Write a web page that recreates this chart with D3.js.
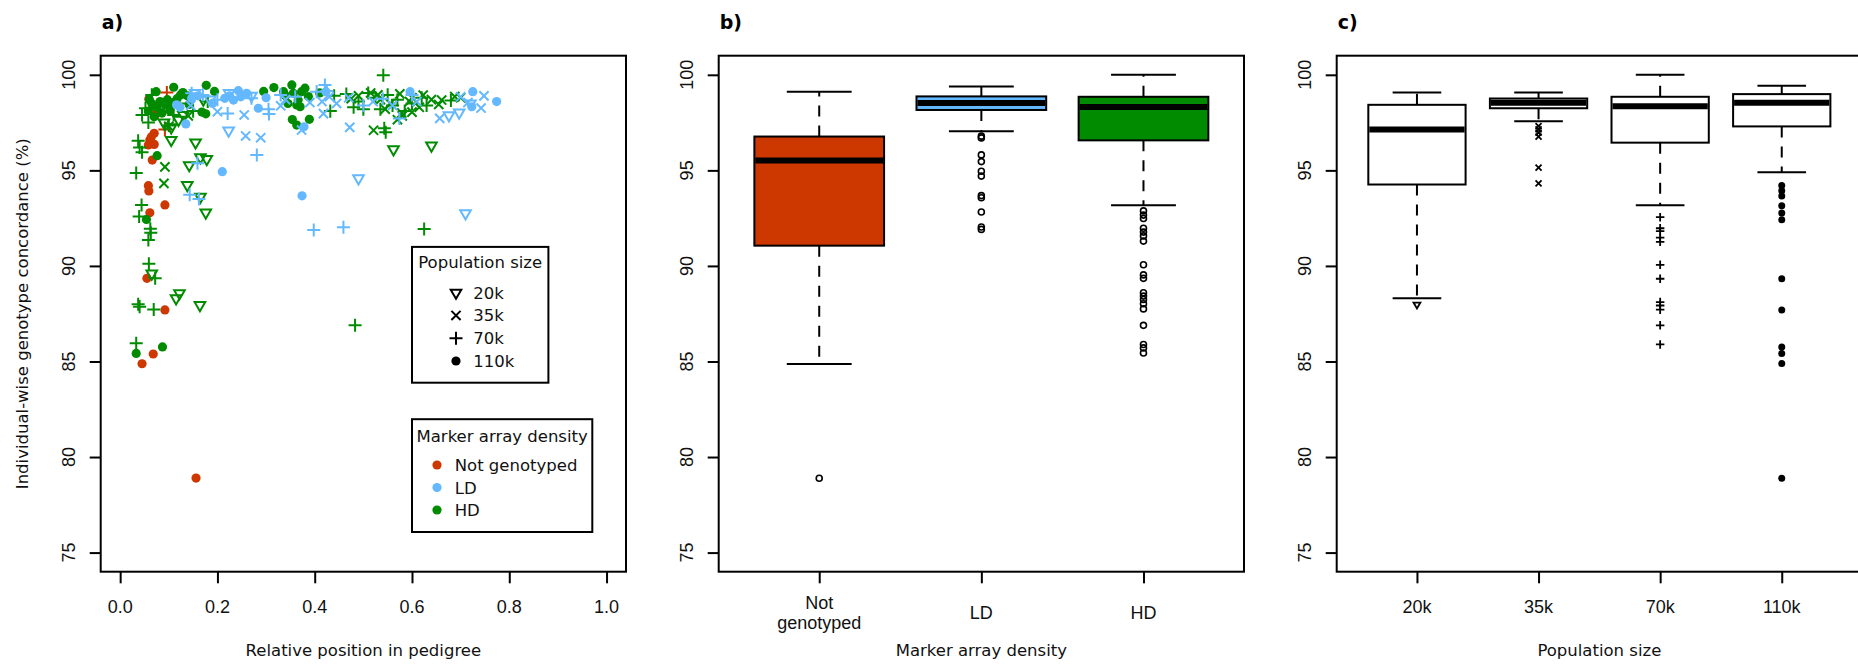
<!DOCTYPE html>
<html><head><meta charset="utf-8">
<script src="https://cdn.jsdelivr.net/npm/d3@7"></script>
<style>body{margin:0;background:#fff}</style>
</head><body>
<svg id="chart" width="1858" height="665"></svg>
<script>
// ---------------- DATA ----------------
const popSizes = ["20k", "35k", "70k", "110k"];
const densities = ["Not genotyped", "LD", "HD"];
const densityTickLabels = [["Not", "genotyped"], ["LD"], ["HD"]];
const densityColors = ["#CD3700", "#63B8FF", "#008B00"];
const xTicksA = [0, 0.2, 0.4, 0.6, 0.8, 1.0];
const yTicks = [75, 80, 85, 90, 95, 100];

// scatter points: [relative position, concordance, population size]
const notGenotypedPoints = [
  [0.059,98.73,"110k"],[0.074,97.99,"110k"],[0.070,96.94,"110k"],[0.061,96.59,"110k"],[0.070,96.36,"110k"],
  [0.058,96.33,"110k"],[0.064,96.75,"110k"],[0.066,95.54,"110k"],[0.058,94.20,"110k"],[0.059,93.92,"110k"],
  [0.092,93.19,"110k"],[0.061,92.78,"110k"],[0.055,89.35,"110k"],[0.092,87.70,"110k"],[0.068,85.39,"110k"],
  [0.045,84.88,"110k"],[0.156,78.90,"110k"],[0.096,99.08,"70k"],[0.092,97.14,"70k"],[0.078,98.05,"70k"]
];
const ldPoints = [
  [0.116,98.43,"110k"],[0.123,98.30,"110k"],[0.135,97.43,"110k"],[0.147,98.77,"110k"],[0.190,98.51,"110k"],
  [0.215,98.77,"110k"],[0.210,94.93,"110k"],[0.233,98.68,"110k"],[0.243,99.17,"110k"],[0.260,99.03,"110k"],
  [0.248,98.85,"110k"],[0.284,98.25,"110k"],[0.378,97.28,"110k"],[0.374,93.67,"110k"],[0.423,99.12,"110k"],
  [0.596,99.12,"110k"],[0.725,99.12,"110k"],[0.723,98.33,"110k"],[0.774,98.60,"110k"],[0.160,98.90,"110k"],
  [0.225,98.90,"110k"],[0.300,98.80,"110k"],
  [0.200,98.07,"35k"],[0.255,97.90,"35k"],[0.258,96.80,"35k"],[0.289,96.71,"35k"],[0.330,98.38,"35k"],
  [0.373,97.11,"35k"],[0.418,97.97,"35k"],[0.472,97.25,"35k"],[0.657,97.72,"35k"],[0.742,98.26,"35k"],
  [0.748,98.90,"35k"],[0.415,98.60,"35k"],[0.430,98.85,"35k"],[0.445,98.50,"35k"],[0.470,98.80,"35k"],
  [0.520,98.60,"35k"],[0.560,98.40,"35k"],[0.610,98.60,"35k"],[0.700,98.85,"35k"],[0.715,98.55,"35k"],
  [0.145,98.40,"35k"],[0.390,98.55,"35k"],[0.340,98.70,"35k"],
  [0.223,97.08,"20k"],[0.224,99.04,"20k"],[0.154,99.05,"20k"],[0.490,94.58,"20k"],[0.710,92.75,"20k"],
  [0.676,97.88,"20k"],[0.697,98.02,"20k"],[0.720,98.50,"20k"],[0.270,98.90,"20k"],[0.185,98.70,"20k"],
  [0.147,99.03,"70k"],[0.143,93.72,"70k"],[0.162,93.50,"70k"],[0.159,95.37,"70k"],[0.221,97.97,"70k"],
  [0.270,98.77,"70k"],[0.281,95.80,"70k"],[0.306,97.95,"70k"],[0.305,98.20,"70k"],[0.398,91.88,"70k"],
  [0.459,92.02,"70k"],[0.404,99.12,"70k"],[0.421,99.47,"70k"],[0.425,99.15,"70k"],[0.574,97.72,"70k"],
  [0.330,98.95,"70k"],[0.360,98.85,"70k"],[0.500,98.40,"70k"],[0.600,98.95,"70k"],[0.540,98.75,"70k"],
  [0.170,98.95,"70k"],[0.200,98.70,"70k"]
];
const hdPoints = [
  [0.074,99.12,"110k"],[0.110,99.35,"110k"],[0.129,99.07,"110k"],[0.177,99.45,"110k"],[0.194,99.13,"110k"],
  [0.176,97.96,"110k"],[0.295,99.13,"110k"],[0.316,99.33,"110k"],[0.336,99.12,"110k"],[0.353,99.47,"110k"],
  [0.356,99.03,"110k"],[0.366,98.68,"110k"],[0.370,98.33,"110k"],[0.387,98.86,"110k"],[0.389,97.67,"110k"],
  [0.354,97.66,"110k"],[0.363,97.37,"110k"],[0.410,99.05,"110k"],[0.373,99.12,"110k"],[0.363,98.42,"110k"],
  [0.076,95.77,"110k"],[0.054,92.43,"110k"],[0.033,85.42,"110k"],[0.087,85.76,"110k"],[0.058,98.10,"110k"],
  [0.065,98.50,"110k"],[0.075,98.30,"110k"],[0.082,98.60,"110k"],[0.086,98.00,"110k"],[0.092,98.45,"110k"],
  [0.097,98.70,"110k"],[0.102,98.15,"110k"],[0.107,98.55,"110k"],[0.117,98.75,"110k"],[0.124,98.95,"110k"],
  [0.070,97.80,"110k"],[0.138,98.90,"110k"],[0.142,98.45,"110k"],[0.168,98.05,"110k"],[0.060,98.70,"110k"],
  [0.340,98.90,"110k"],[0.380,99.30,"110k"],[0.345,98.50,"110k"],
  [0.105,97.25,"20k"],[0.120,97.64,"20k"],[0.105,96.59,"20k"],[0.155,96.46,"20k"],[0.142,95.27,"20k"],
  [0.165,95.68,"20k"],[0.178,95.59,"20k"],[0.138,94.23,"20k"],[0.165,93.61,"20k"],[0.176,92.79,"20k"],
  [0.065,89.60,"20k"],[0.115,88.30,"20k"],[0.122,88.57,"20k"],[0.164,87.95,"20k"],[0.562,96.10,"20k"],
  [0.640,96.30,"20k"],[0.171,98.70,"20k"],[0.130,97.90,"20k"],[0.090,97.50,"20k"],
  [0.092,95.18,"35k"],[0.090,94.32,"35k"],[0.521,97.10,"35k"],[0.580,97.85,"35k"],[0.688,98.86,"35k"],
  [0.661,98.68,"35k"],[0.623,98.94,"35k"],[0.579,98.00,"35k"],[0.490,98.90,"35k"],[0.515,99.05,"35k"],
  [0.535,98.70,"35k"],[0.555,98.50,"35k"],[0.575,99.00,"35k"],[0.595,98.60,"35k"],[0.615,98.30,"35k"],
  [0.640,98.70,"35k"],[0.655,98.45,"35k"],[0.700,98.80,"35k"],[0.570,97.65,"35k"],[0.545,98.20,"35k"],
  [0.600,98.05,"35k"],[0.475,98.75,"35k"],[0.100,97.30,"35k"],[0.140,97.85,"35k"],[0.530,98.95,"35k"],
  [0.600,98.80,"35k"],
  [0.033,94.86,"70k"],[0.044,93.19,"70k"],[0.039,92.58,"70k"],[0.063,91.74,"70k"],[0.058,91.36,"70k"],
  [0.059,90.11,"70k"],[0.072,89.35,"70k"],[0.037,87.99,"70k"],[0.040,87.87,"70k"],[0.069,87.72,"70k"],
  [0.033,85.96,"70k"],[0.037,96.55,"70k"],[0.040,96.20,"70k"],[0.045,95.95,"70k"],[0.058,97.50,"70k"],
  [0.052,98.25,"70k"],[0.062,91.95,"70k"],[0.065,98.95,"70k"],[0.100,97.35,"70k"],[0.110,97.90,"70k"],
  [0.150,98.10,"70k"],[0.180,98.60,"70k"],[0.432,98.10,"70k"],[0.440,98.90,"70k"],[0.465,99.00,"70k"],
  [0.480,98.30,"70k"],[0.490,98.60,"70k"],[0.500,98.20,"70k"],[0.510,99.05,"70k"],[0.525,98.80,"70k"],
  [0.535,98.20,"70k"],[0.550,98.95,"70k"],[0.560,98.40,"70k"],[0.570,98.70,"70k"],[0.585,98.10,"70k"],
  [0.600,98.50,"70k"],[0.620,98.80,"70k"],[0.630,98.40,"70k"],[0.541,99.98,"70k"],[0.543,97.20,"70k"],
  [0.546,97.00,"70k"],[0.483,86.89,"70k"],[0.625,91.93,"70k"],[0.680,98.65,"70k"],[0.045,97.90,"70k"],
  [0.078,98.20,"70k"],[0.120,98.50,"70k"]
];

// boxplot statistics [lower whisker, Q1, median, Q3, upper whisker]
const densityBoxStats = [
  [84.87, 91.06, 95.52, 96.77, 99.12],
  [97.05, 98.16, 98.52, 98.87, 99.39],
  [93.17, 96.57, 98.32, 98.85, 100.0]
];
const densityOutliers = [
  [78.89],
  [96.79, 96.70, 95.81, 95.46, 94.95, 94.70, 93.68, 93.57, 92.82, 92.04, 91.91],
  [92.88, 92.66, 92.48, 91.97, 91.77, 91.57, 91.30, 90.06, 89.53, 89.35, 88.60, 88.42, 88.24, 88.02, 87.75, 86.89, 85.89, 85.71, 85.44]
];
const popBoxStats = [
  [88.31, 94.26, 97.14, 98.43, 99.07],
  [97.57, 98.25, 98.54, 98.76, 99.07],
  [93.17, 96.45, 98.36, 98.85, 100.0],
  [94.90, 97.30, 98.54, 98.99, 99.43]
];
const popOutliers = [
  [87.98],
  [97.32, 97.14, 96.97, 96.77, 95.14, 94.32],
  [92.55, 91.97, 91.82, 91.48, 91.26, 90.06, 89.33, 88.11, 87.93, 87.71, 86.89, 85.89],
  [94.21, 93.93, 93.66, 93.15, 92.77, 92.41, 89.33, 87.69, 85.76, 85.42, 84.89, 78.89]
];

// ---------------- LAYOUT ----------------
const svg = d3.select("#chart");
const TOP = 55.7, BOTTOM = 571.7, PW = 525.3;
const panels = [100.7, 718.7, 1336.7];
const LABEL_FONT = "'Liberation Sans', Arial, sans-serif";
const TEXT_FONT = "'DejaVu Sans', Verdana, sans-serif";

const y = d3.scaleLinear().domain([74, 101]).range([BOTTOM, TOP]);
const xA = d3.scaleLinear().domain([-0.04, 1.04]).range([panels[0], panels[0] + PW]);
const xB = d3.scaleLinear().domain([0.38, 3.62]).range([panels[1], panels[1] + PW]);
const xC = d3.scaleLinear().domain([0.34, 4.66]).range([panels[2], panels[2] + PW]);

// symbol generator (R pch 6, 4, 3, 16)
function markPath(pop, r) {
  if (pop === "20k") {
    const t = r * 1.33;
    return `M${-0.866*t},${-t/2}L${0.866*t},${-t/2}L0,${t}Z`;
  }
  if (pop === "35k") return `M${-r},${-r}L${r},${r}M${-r},${r}L${r},${-r}`;
  if (pop === "70k") { const s = r * 1.414; return `M${-s},0L${s},0M0,${-s}L0,${s}`; }
  return null;
}
function drawMark(g, pop, cx, cy, r, color, sw) {
  const p = markPath(pop, r);
  if (p === null) {
    g.append("circle").attr("cx", cx).attr("cy", cy).attr("r", r).attr("fill", color);
  } else {
    g.append("path").attr("d", p).attr("transform", `translate(${cx},${cy})`)
      .attr("fill", "none").attr("stroke", color).attr("stroke-width", sw);
  }
}

function yAxis(left) {
  const g = svg.append("g").attr("transform", `translate(${left},0)`);
  g.call(d3.axisLeft(y).tickValues(yTicks).tickSize(11).tickFormat(""));
  g.select(".domain").remove();
  g.selectAll(".tick line").attr("stroke", "#000").attr("stroke-width", 2);
  yTicks.forEach(v => {
    svg.append("text").attr("transform", `translate(${left - 25.7},${y(v)}) rotate(-90)`)
      .attr("text-anchor", "middle").attr("font-family", LABEL_FONT).attr("font-size", 18)
      .attr("fill", "#111").text(v);
  });
}
function frame(left, label) {
  svg.append("rect").attr("x", left).attr("y", TOP).attr("width", PW).attr("height", BOTTOM - TOP)
    .attr("fill", "none").attr("stroke", "#000").attr("stroke-width", 2);
  svg.append("text").attr("x", left + 1).attr("y", 29.3).attr("font-family", TEXT_FONT)
    .attr("font-weight", "bold").attr("font-size", 19).attr("fill", "#000").text(label);
}
function xTitle(left, t) {
  svg.append("text").attr("x", left + PW / 2).attr("y", 656).attr("text-anchor", "middle")
    .attr("font-family", TEXT_FONT).attr("font-size", 16.5).attr("fill", "#111").text(t);
}

// ---------------- PANEL A ----------------
{
  const gx = svg.append("g").attr("transform", `translate(0,${BOTTOM})`);
  gx.call(d3.axisBottom(xA).tickValues(xTicksA).tickSize(11.6).tickFormat(""));
  gx.select(".domain").remove();
  gx.selectAll(".tick line").attr("stroke", "#000").attr("stroke-width", 2);
  xTicksA.forEach(v => {
    svg.append("text").attr("x", xA(v)).attr("y", 612.7).attr("text-anchor", "middle")
      .attr("font-family", LABEL_FONT).attr("font-size", 18).attr("fill", "#111").text(d3.format(".1f")(v));
  });
  yAxis(panels[0]);
  svg.append("text").attr("transform", `translate(28,${(TOP + BOTTOM) / 2}) rotate(-90)`)
    .attr("text-anchor", "middle").attr("font-family", TEXT_FONT).attr("font-size", 16.5)
    .attr("fill", "#111").text("Individual-wise genotype concordance (%)");
  xTitle(panels[0], "Relative position in pedigree");

  const gp = svg.append("g");
  const sets = [[notGenotypedPoints, 0], [hdPoints, 2], [ldPoints, 1]];
  sets.forEach(([pts, di]) => {
    pts.forEach(d => drawMark(gp, d[2], xA(d[0]), y(d[1]), 4.6, densityColors[di], 2));
  });

  // legend 1: population size
  const L1 = {x0: 412, x1: 548.4, y0: 246.9, y1: 382.7};
  svg.append("rect").attr("x", L1.x0).attr("y", L1.y0).attr("width", L1.x1 - L1.x0).attr("height", L1.y1 - L1.y0)
    .attr("fill", "#fff").attr("stroke", "#000").attr("stroke-width", 2);
  svg.append("text").attr("x", (L1.x0 + L1.x1) / 2).attr("y", 268).attr("text-anchor", "middle")
    .attr("font-family", TEXT_FONT).attr("font-size", 16.5).attr("fill", "#111").text("Population size");
  popSizes.forEach((p, i) => {
    const cy = 292.7 + i * 22.77;
    drawMark(svg, p, 456, cy, 4.6, "#000", 2);
    svg.append("text").attr("x", 473.3).attr("y", cy + 6).attr("font-family", TEXT_FONT)
      .attr("font-size", 16.5).attr("fill", "#111").text(p);
  });
  // legend 2: marker array density
  const L2 = {x0: 412, x1: 592.3, y0: 419.2, y1: 532};
  svg.append("rect").attr("x", L2.x0).attr("y", L2.y0).attr("width", L2.x1 - L2.x0).attr("height", L2.y1 - L2.y0)
    .attr("fill", "#fff").attr("stroke", "#000").attr("stroke-width", 2);
  svg.append("text").attr("x", (L2.x0 + L2.x1) / 2).attr("y", 441.5).attr("text-anchor", "middle")
    .attr("font-family", TEXT_FONT).attr("font-size", 16.5).attr("fill", "#111").text("Marker array density");
  densities.forEach((dn, i) => {
    const cy = 465 + i * 22.5;
    svg.append("circle").attr("cx", 437).attr("cy", cy).attr("r", 4.6).attr("fill", densityColors[i]);
    svg.append("text").attr("x", 454.7).attr("y", cy + 6).attr("font-family", TEXT_FONT)
      .attr("font-size", 16.5).attr("fill", "#111").text(dn);
  });
  frame(panels[0], "a)");
}

// ---------------- BOXPLOT helper ----------------
function boxplot(xs, stats, outliers, fills, drawOut) {
  const g = svg.append("g");
  stats.forEach((s, i) => {
    const pos = i + 1;
    const cx = xs(pos), bl = xs(pos - 0.4), br = xs(pos + 0.4);
    const sl = xs(pos - 0.2), sr = xs(pos + 0.2);
    g.append("line").attr("x1", cx).attr("x2", cx).attr("y1", y(s[3])).attr("y2", y(s[4]))
      .attr("stroke", "#000").attr("stroke-width", 2).attr("stroke-dasharray", "11,9");
    g.append("line").attr("x1", cx).attr("x2", cx).attr("y1", y(s[1])).attr("y2", y(s[0]))
      .attr("stroke", "#000").attr("stroke-width", 2).attr("stroke-dasharray", "11,9");
    [s[0], s[4]].forEach(v => g.append("line").attr("x1", sl).attr("x2", sr).attr("y1", y(v)).attr("y2", y(v))
      .attr("stroke", "#000").attr("stroke-width", 2));
    g.append("rect").attr("x", bl).attr("width", br - bl).attr("y", y(s[3])).attr("height", y(s[1]) - y(s[3]))
      .attr("fill", fills[i]).attr("stroke", "#000").attr("stroke-width", 2);
    g.append("line").attr("x1", bl + 1).attr("x2", br - 1).attr("y1", y(s[2])).attr("y2", y(s[2]))
      .attr("stroke", "#000").attr("stroke-width", 6);
    outliers[i].forEach(v => drawOut(g, i, cx, y(v)));
  });
}
function catAxis(xs, n) {
  const gx = svg.append("g").attr("transform", `translate(0,${BOTTOM})`);
  gx.call(d3.axisBottom(xs).tickValues(d3.range(1, n + 1)).tickSize(11.6).tickFormat(""));
  gx.select(".domain").remove();
  gx.selectAll(".tick line").attr("stroke", "#000").attr("stroke-width", 2);
}

// ---------------- PANEL B ----------------
{
  catAxis(xB, 3);
  densityTickLabels.forEach((lines, i) => {
    lines.forEach((t, j) => {
      svg.append("text").attr("x", xB(i + 1)).attr("y", 619 + (j - (lines.length - 1) / 2) * 19.4)
        .attr("text-anchor", "middle").attr("font-family", LABEL_FONT).attr("font-size", 18)
        .attr("fill", "#111").text(t);
    });
  });
  yAxis(panels[1]);
  xTitle(panels[1], "Marker array density");
  boxplot(xB, densityBoxStats, densityOutliers, densityColors, (g, i, cx, cy) => {
    g.append("circle").attr("cx", cx).attr("cy", cy).attr("r", 3).attr("fill", "none")
      .attr("stroke", "#000").attr("stroke-width", 1.6);
  });
  frame(panels[1], "b)");
}

// ---------------- PANEL C ----------------
{
  catAxis(xC, 4);
  popSizes.forEach((p, i) => {
    svg.append("text").attr("x", xC(i + 1)).attr("y", 613).attr("text-anchor", "middle")
      .attr("font-family", LABEL_FONT).attr("font-size", 18).attr("fill", "#111").text(p);
  });
  yAxis(panels[2]);
  xTitle(panels[2], "Population size");
  boxplot(xC, popBoxStats, popOutliers, popSizes.map(() => "#fff"), (g, i, cx, cy) => {
    const p = popSizes[i];
    drawMark(g, p, cx, cy, p === "110k" ? 3.5 : 3, "#000", 1.8);
  });
  frame(panels[2], "c)");
}
</script>
</body></html>
